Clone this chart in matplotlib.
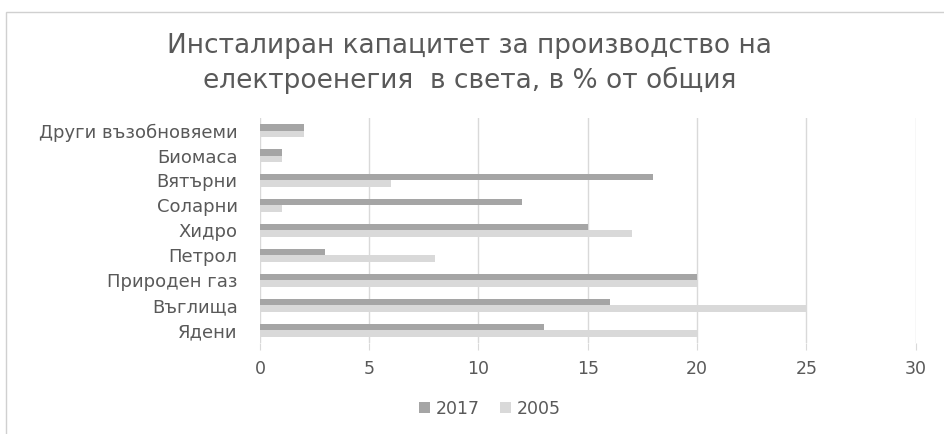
import matplotlib
matplotlib.use("Agg")
import matplotlib.pyplot as plt
from matplotlib.patches import Rectangle
import numpy as np

# data
categories = ["Ядени", "Въглища", "Природен газ", "Петрол", "Хидро",
              "Соларни", "Вятърни", "Биомаса", "Други възобновяеми"]
values_2017 = [13, 16, 20, 3, 15, 12, 18, 1, 2]
values_2005 = [20, 25, 20, 8, 17, 1, 6, 1, 2]
series_labels = ["2017", "2005"]
xticks = [0, 5, 10, 15, 20, 25, 30]

title = "Инсталиран капацитет за производство на\nелектроенегия  в света, в % от общия"

text_col = "#595959"
dark = "#a5a5a5"
light = "#d9d9d9"
grid_col = "#d9d9d9"

plt.rcParams["font.family"] = ["DejaVu Sans"]

fig = plt.figure(figsize=(9.45, 4.34), dpi=100)
ax = fig.add_axes([0.275, 0.21, 0.694, 0.518])

y = np.arange(len(categories))
h = 0.26
ax.barh(y + h / 2, values_2017, height=h, color=dark, label=series_labels[0], zorder=3)
ax.barh(y - h / 2, values_2005, height=h, color=light, label=series_labels[1], zorder=3)

ax.set_xlim(0, 30)
ax.set_ylim(-0.5, len(categories) - 0.5)
ax.set_xticks(xticks)
ax.set_yticks(y)
ax.set_yticklabels(categories)
ax.tick_params(axis="y", length=0, pad=16, labelsize=13, labelcolor=text_col)
ax.tick_params(axis="x", length=5, color=grid_col, pad=7, labelsize=12.5, labelcolor=text_col)
ax.grid(axis="x", color=grid_col, linewidth=1, zorder=0)
for s in ax.spines.values():
    s.set_visible(False)

fig.text(0.497, 0.853, title, ha="center", va="center", fontsize=19,
         color=text_col, linespacing=1.35)

ax.legend(loc="center", bbox_to_anchor=(490 / 945, 1 - 409 / 434),
          bbox_transform=fig.transFigure, ncol=2, frameon=False,
          fontsize=12.5, labelcolor=text_col, handlelength=0.6, handleheight=0.6,
          handletextpad=0.35, columnspacing=1.2)

# outer chart frame
fig.patches.append(Rectangle((6 / 945, -0.1), 1.2, 1 - 12 / 434 + 0.1,
                             transform=fig.transFigure, fill=False,
                             edgecolor="#d0d0d0", linewidth=1))

fig.savefig("out.png", dpi=100)
